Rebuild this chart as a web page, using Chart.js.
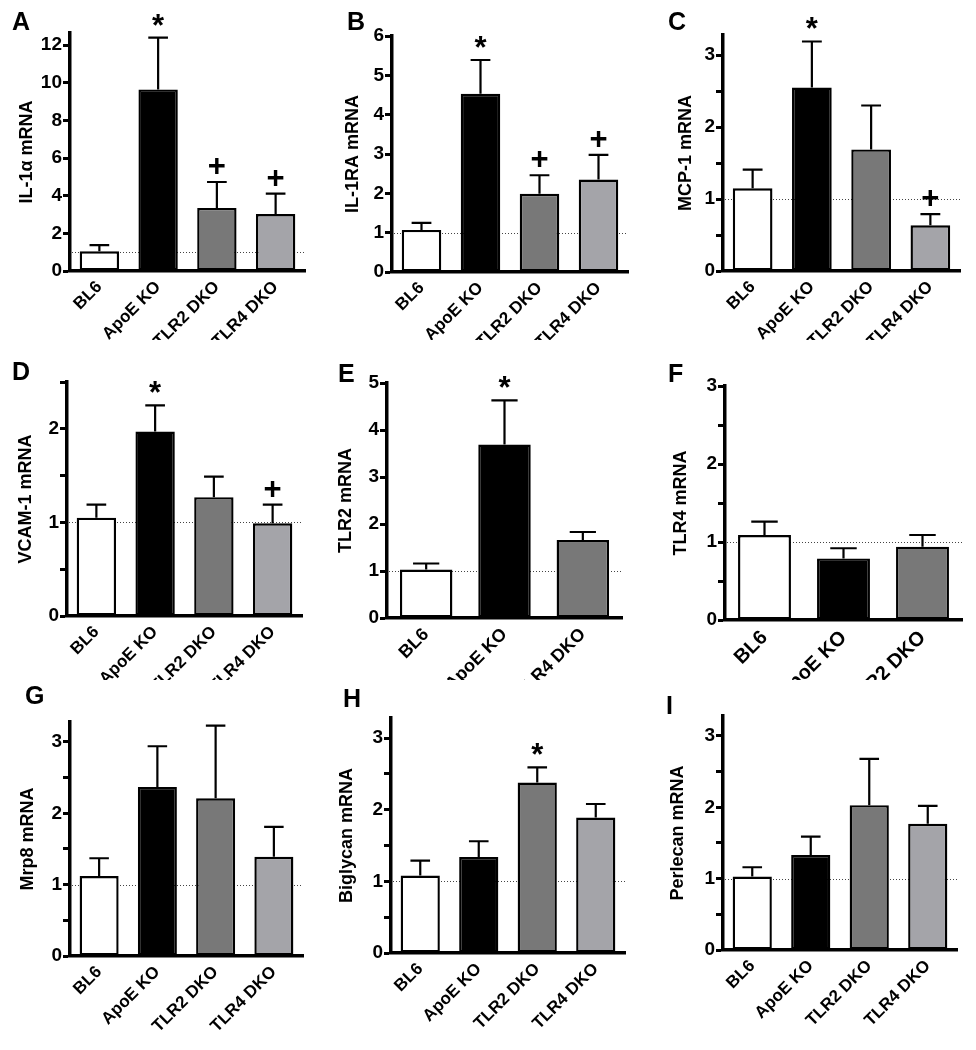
<!DOCTYPE html>
<html>
<head>
<meta charset="utf-8">
<script src="https://cdn.jsdelivr.net/npm/chart.js@4.4.1/dist/chart.umd.min.js"></script>
<style>
body { margin: 0; background: #fff; }
#fig { position: relative; width: 976px; height: 1050px; overflow: hidden; background: #fff; }
#fig canvas { position: absolute; }
.letter { position: absolute; font: bold 25px "Liberation Sans", Arial, sans-serif; line-height: 24px; color: #000; }
</style>
</head>
<body>
<div id="fig"></div>
<script>
// groups on the x axis
var groups4 = ['BL6', 'ApoE KO', 'TLR2 DKO', 'TLR4 DKO'];
var groupsE = ['BL6', 'ApoE KO', 'TLR4 DKO'];
var groupsF = ['BL6', 'ApoE KO', 'TLR2 DKO'];

// mean and SEM per panel (relative mRNA)
var il1aMean = [1.05, 9.65, 3.35, 3.03];
var il1aSem = [0.32, 2.75, 1.38, 1.08];
var il1raMean = [1.07, 4.53, 1.99, 2.35];
var il1raSem = [0.18, 0.86, 0.47, 0.63];
var mcp1Mean = [1.15, 2.55, 1.69, 0.635];
var mcp1Sem = [0.26, 0.64, 0.61, 0.155];
var vcam1Mean = [1.05, 1.97, 1.27, 0.99];
var vcam1Sem = [0.14, 0.28, 0.22, 0.20];
var tlr2Mean = [1.03, 3.69, 1.66];
var tlr2Sem = [0.13, 0.94, 0.17];
var tlr4Mean = [1.09, 0.79, 0.94];
var tlr4Sem = [0.17, 0.13, 0.15];
var mrp8Mean = [1.12, 2.37, 2.21, 1.39];
var mrp8Sem = [0.25, 0.57, 1.02, 0.42];
var biglycanMean = [1.08, 1.34, 2.38, 1.89];
var biglycanSem = [0.21, 0.22, 0.21, 0.19];
var perlecanMean = [1.03, 1.33, 2.03, 1.77];
var perlecanSem = [0.13, 0.26, 0.65, 0.25];

// significance marks
var il1aMarks = ['', '*', '+', '+'];
var il1raMarks = ['', '*', '+', '+'];
var mcp1Marks = ['', '*', '', '+'];
var vcam1Marks = ['', '*', '', '+'];
var tlr2Marks = ['', '*', ''];
var biglycanMarks = ['', '', '*', ''];

var barColors = ['#ffffff', '#000000', '#787878', '#a4a4a9'];
var FONT = '"Liberation Sans", Arial, sans-serif';

var panels = [
    {letter: 'A', lx: 12, ly: 9, title: 'IL-1\u03b1 mRNA', labels: groups4, mean: il1aMean, sem: il1aSem, marks: il1aMarks,
     max: 12.65, step: 2, axisX: 70, top: 33, bottom: 271, right: 305, rowTop: 0, rowBottom: 340, titleOff: 43, xFont: 17},
    {letter: 'B', lx: 347, ly: 9, title: 'IL-1RA mRNA', labels: groups4, mean: il1raMean, sem: il1raSem, marks: il1raMarks,
     max: 6, step: 1, axisX: 392, top: 36, bottom: 272, right: 628, rowTop: 0, rowBottom: 340, titleOff: 39, xFont: 17},
    {letter: 'C', lx: 668, ly: 9, title: 'MCP-1 mRNA', labels: groups4, mean: mcp1Mean, sem: mcp1Sem, marks: mcp1Marks,
     max: 3.28, step: 0.5, axisX: 723, top: 35, bottom: 271, right: 960, rowTop: 0, rowBottom: 340, titleOff: 37, xFont: 17},
    {letter: 'D', lx: 12, ly: 359, title: 'VCAM-1 mRNA', labels: groups4, mean: vcam1Mean, sem: vcam1Sem, marks: vcam1Marks,
     max: 2.5, step: 0.5, axisX: 67, top: 382, bottom: 616, right: 302, rowTop: 340, rowBottom: 680, titleOff: 41, xFont: 17},
    {letter: 'E', lx: 338, ly: 361, title: 'TLR2 mRNA', labels: groupsE, mean: tlr2Mean, sem: tlr2Sem, marks: tlr2Marks,
     max: 5, step: 1, axisX: 387, top: 383, bottom: 618, right: 622, rowTop: 340, rowBottom: 680, titleOff: 41, xFont: 18},
    {letter: 'F', lx: 668, ly: 361, title: 'TLR4 mRNA', labels: groupsF, mean: tlr4Mean, sem: tlr4Sem, marks: null,
     max: 3, step: 0.5, axisX: 725, top: 386, bottom: 620, right: 962, rowTop: 340, rowBottom: 680, titleOff: 44, xFont: 20},
    {letter: 'G', lx: 25, ly: 683, title: 'Mrp8 mRNA', labels: groups4, mean: mrp8Mean, sem: mrp8Sem, marks: null,
     max: 3.28, step: 0.5, axisX: 70, top: 722, bottom: 956, right: 303, rowTop: 680, rowBottom: 1050, titleOff: 42, xFont: 17},
    {letter: 'H', lx: 343, ly: 686, title: 'Biglycan mRNA', labels: groups4, mean: biglycanMean, sem: biglycanSem, marks: biglycanMarks,
     max: 3.28, step: 0.5, axisX: 391, top: 718, bottom: 953, right: 625, rowTop: 680, rowBottom: 1050, titleOff: 44, xFont: 17},
    {letter: 'I', lx: 666, ly: 693, title: 'Perlecan mRNA', labels: groups4, mean: perlecanMean, sem: perlecanSem, marks: null,
     max: 3.28, step: 0.5, axisX: 723, top: 716, bottom: 950, right: 957, rowTop: 680, rowBottom: 1050, titleOff: 45, xFont: 17}
];

var Y_WIDTH = 60;
var fig = document.getElementById('fig');

function makePanel(p) {
    var canvas = document.createElement('canvas');
    var w = Y_WIDTH + (p.right - p.axisX) + 12;
    var h = p.rowBottom - p.rowTop;
    canvas.width = w;
    canvas.height = h;
    canvas.style.left = (p.axisX - Y_WIDTH) + 'px';
    canvas.style.top = p.rowTop + 'px';
    fig.appendChild(canvas);

    var lab = document.createElement('div');
    lab.className = 'letter';
    lab.textContent = p.letter;
    lab.style.left = p.lx + 'px';
    lab.style.top = p.ly + 'px';
    fig.appendChild(lab);

    // dotted line at 1 plus error bars and marks
    var marksPlugin = {
        id: 'panelMarks',
        beforeDatasetsDraw: function(chart) {
            var c = chart.ctx, a = chart.chartArea;
            var py = Math.round(chart.scales.y.getPixelForValue(1)) + 0.5;
            c.save();
            c.strokeStyle = '#444';
            c.lineWidth = 1;
            c.setLineDash([1, 2]);
            c.beginPath();
            c.moveTo(a.left + 2, py);
            c.lineTo(a.right, py);
            c.stroke();
            c.restore();
        },
        afterDatasetsDraw: function(chart) {
            var c = chart.ctx, yScale = chart.scales.y;
            var meta = chart.getDatasetMeta(0);
            c.save();
            c.strokeStyle = '#000';
            c.fillStyle = '#000';
            c.lineWidth = 2.2;
            meta.data.forEach(function(bar, i) {
                var top = yScale.getPixelForValue(p.mean[i] + p.sem[i]);
                var half = bar.width / 4;
                c.beginPath();
                c.moveTo(bar.x, bar.y);
                c.lineTo(bar.x, top);
                c.moveTo(bar.x - half, top);
                c.lineTo(bar.x + half, top);
                c.stroke();
                var m = p.marks ? p.marks[i] : '';
                if (m) {
                    c.font = 'bold 31px ' + FONT;
                    c.textAlign = 'center';
                    c.textBaseline = 'alphabetic';
                    c.fillText(m, bar.x, top - (m === '*' ? 2 : 6));
                }
            });
            c.restore();
        }
    };

    new Chart(canvas, {
        type: 'bar',
        data: {
            labels: p.labels,
            datasets: [{
                data: p.mean,
                backgroundColor: barColors.slice(0, p.mean.length),
                borderColor: '#000',
                borderWidth: 2.4,
                borderSkipped: false,
                barPercentage: 0.67,
                categoryPercentage: 1
            }]
        },
        options: {
            responsive: false,
            animation: false,
            devicePixelRatio: 1,
            layout: {padding: {left: 0, right: 12, top: p.top - p.rowTop, bottom: 0}},
            plugins: {legend: {display: false}, tooltip: {enabled: false}},
            scales: {
                x: {
                    afterFit: function(a) { a.height = p.rowBottom - p.bottom; },
                    border: {display: true, color: '#000', width: 3.5},
                    grid: {display: false, drawTicks: false},
                    ticks: {
                        autoSkip: false, maxRotation: 45, minRotation: 45, padding: 6, color: '#000',
                        font: {family: FONT, size: p.xFont, weight: 'bold'}
                    }
                },
                y: {
                    min: 0,
                    max: p.max,
                    afterFit: function(a) { a.width = Y_WIDTH; },
                    border: {display: true, color: '#000', width: 3.5},
                    grid: {drawOnChartArea: false, drawTicks: true, tickLength: 7, tickWidth: 3, tickColor: '#000'},
                    ticks: {
                        stepSize: p.step, includeBounds: false, padding: 1, color: '#000',
                        font: {family: FONT, size: 19, weight: 'bold'},
                        callback: function(v) {
                            return Math.abs(v - Math.round(v)) < 1e-6 ? String(Math.round(v)) : '';
                        }
                    },
                    title: {
                        display: true, text: p.title, color: '#000',
                        font: {family: FONT, size: 18, weight: 'bold'},
                        padding: {top: Y_WIDTH - p.titleOff - 10.8, bottom: 0}
                    }
                }
            }
        },
        plugins: [marksPlugin]
    });
}

panels.forEach(makePanel);
</script>
</body>
</html>
